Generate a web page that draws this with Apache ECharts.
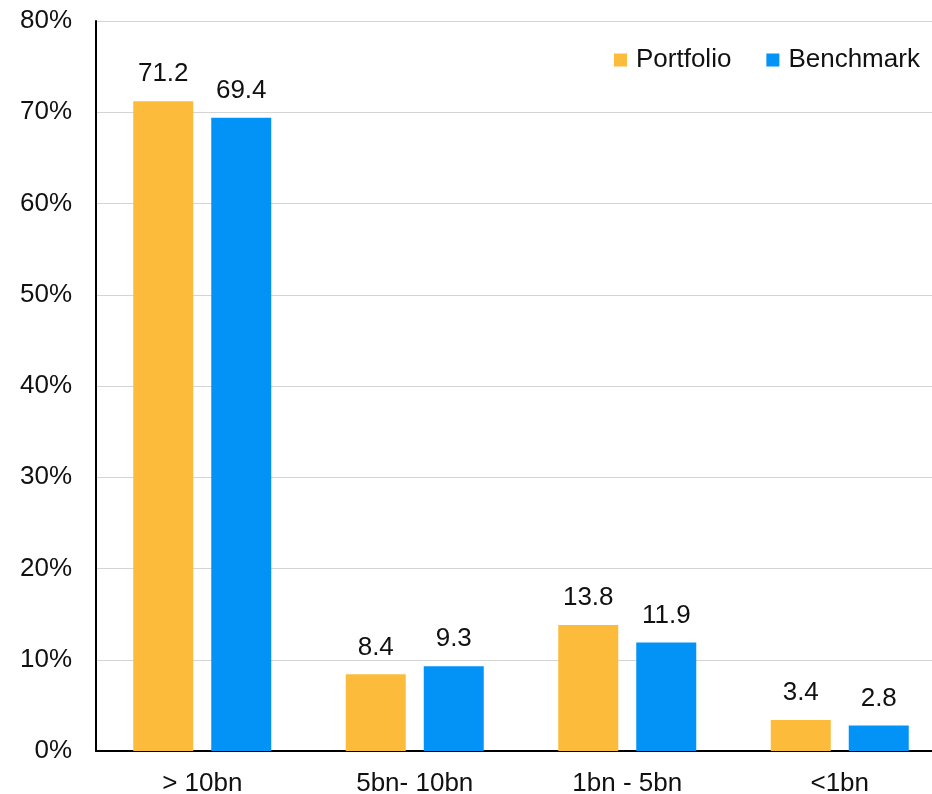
<!DOCTYPE html>
<html>
<head>
<meta charset="utf-8">
<script src="https://cdn.jsdelivr.net/npm/echarts@6/dist/echarts.min.js"></script>
<style>
  html, body { margin: 0; padding: 0; background: #fff; overflow: hidden; }
  /* plot runs a little past the right edge of the window */
  #chart { width: 946px; height: 794px; }
</style>
</head>
<body>
<div id="chart"></div>
<script>
// Market-cap buckets and weights (%)
const categories = ['> 10bn', '5bn- 10bn', '1bn - 5bn', '<1bn'];
const portfolio = [71.2, 8.4, 13.8, 3.4];
const benchmark = [69.4, 9.3, 11.9, 2.8];
const yTicks = { min: 0, max: 80, interval: 10 };

const FONT = '"Liberation Sans", Arial, sans-serif';
const SIZE = 26;
const chart = echarts.init(document.getElementById('chart'), null, { renderer: 'canvas' });

const labelStyle = {
  show: true,
  position: 'top',
  distance: 14,
  color: '#111',
  fontFamily: FONT,
  fontSize: SIZE
};

chart.setOption({
  animation: false,
  backgroundColor: '#fff',
  grid: { left: 96, right: 0, top: 21, bottom: 43, containLabel: false, outerBoundsMode: 'none' },
  legend: {
    left: 614,
    top: 47,
    padding: 0,
    icon: 'rect',
    itemWidth: 13,
    itemHeight: 13,
    itemGap: 35,
    textStyle: { fontFamily: FONT, fontSize: SIZE, color: '#111', padding: [0, 0, 0, 4] },
    data: ['Portfolio', 'Benchmark']
  },
  xAxis: {
    type: 'category',
    data: categories,
    axisLine: { show: true, lineStyle: { color: '#000', width: 2 } },
    axisTick: { show: false },
    axisLabel: { margin: 20, color: '#111', fontFamily: FONT, fontSize: SIZE }
  },
  yAxis: {
    type: 'value',
    min: yTicks.min,
    max: yTicks.max,
    interval: yTicks.interval,
    axisLine: { show: true, lineStyle: { color: '#000', width: 2 } },
    axisTick: { show: false },
    axisLabel: { margin: 24, color: '#111', fontFamily: FONT, fontSize: SIZE, formatter: '{value}%' },
    splitLine: { show: true, lineStyle: { color: '#d4d4d4', width: 1 } }
  },
  series: [
    {
      name: 'Portfolio',
      type: 'bar',
      data: portfolio,
      barWidth: 60,
      barGap: '30%',
      itemStyle: { color: '#FCBB3A' },
      label: labelStyle
    },
    {
      name: 'Benchmark',
      type: 'bar',
      data: benchmark,
      barWidth: 60,
      barGap: '30%',
      itemStyle: { color: '#0393F6' },
      label: labelStyle
    }
  ]
});
</script>
</body>
</html>
